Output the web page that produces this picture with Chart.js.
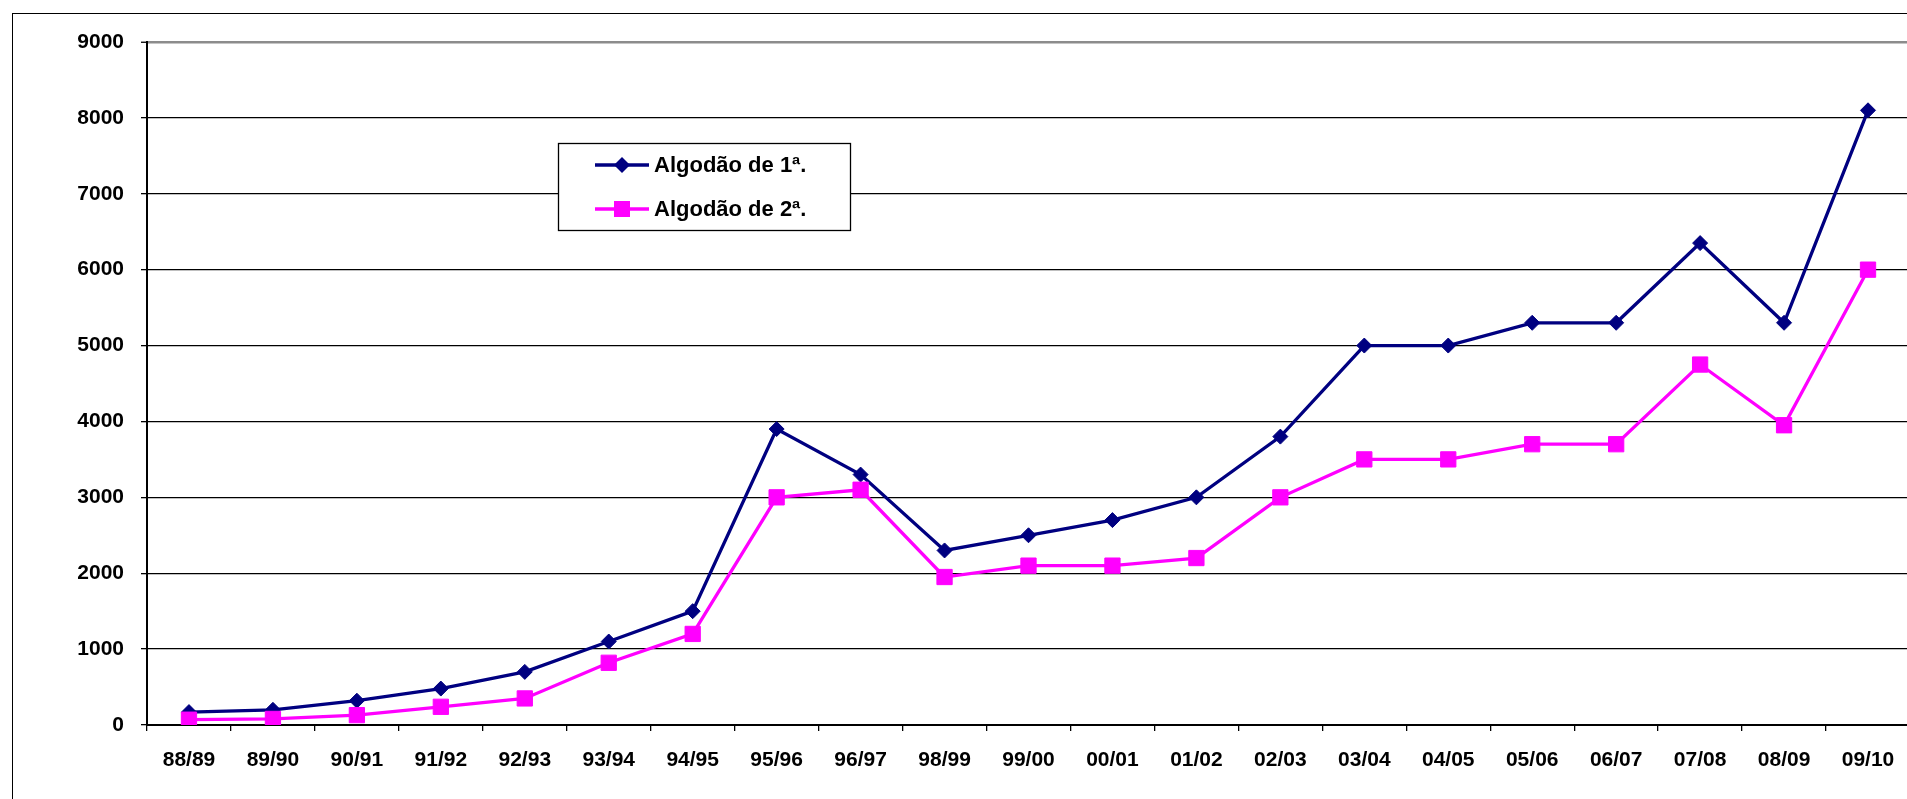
<!DOCTYPE html>
<html>
<head>
<meta charset="utf-8">
<script src="https://cdn.jsdelivr.net/npm/chart.js@4/dist/chart.umd.min.js"></script>
<style>
  html, body { margin: 0; padding: 0; width: 1907px; height: 799px; overflow: hidden; background: #fff; }
  #frame { position: absolute; left: 12px; top: 13px; width: 2000px; height: 900px; border: 1px solid #000; box-sizing: border-box; }
  #wrap { position: absolute; left: 0; top: 0; width: 1930px; height: 799px; }
</style>
</head>
<body>
<div id="frame"></div>
<div id="wrap"><canvas id="c" width="1930" height="799"></canvas></div>
<script>
// Safras (crop years)
const safras = ['88/89', '89/90', '90/91', '91/92', '92/93', '93/94', '94/95', '95/96', '96/97',
  '98/99', '99/00', '00/01', '01/02', '02/03', '03/04', '04/05', '05/06', '06/07', '07/08', '08/09', '09/10'];

// Valores por safra
const algodao1 = [170, 200, 320, 480, 700, 1100, 1500, 3900, 3300, 2300, 2500, 2700, 3000, 3800,
  5000, 5000, 5300, 5300, 6350, 5300, 8100];
const algodao2 = [70, 80, 130, 240, 350, 820, 1200, 3000, 3100, 1950, 2100, 2100, 2200, 3000,
  3500, 3500, 3700, 3700, 4750, 3950, 6000];

const seriesNames = ['Algodão de 1ª.', 'Algodão de 2ª.'];
const yTickValues = [0, 1000, 2000, 3000, 4000, 5000, 6000, 7000, 8000, 9000];

const NAVY = '#000080';
const MAGENTA = '#FF00FF';
const tickFont = { family: '"Liberation Sans", Arial, sans-serif', size: 21, weight: 'bold' };

// Legend box drawn inside the plot, over the grid lines
const legendBox = {
  id: 'legendBox',
  afterDraw(chart) {
    const ctx = chart.ctx;
    const box = { x: 558, y: 143, w: 292, h: 87 };
    ctx.save();
    ctx.fillStyle = '#fff';
    ctx.fillRect(box.x, box.y, box.w, box.h);
    ctx.strokeStyle = '#000';
    ctx.lineWidth = 1.3;
    ctx.strokeRect(box.x + 0.5, box.y + 0.5, box.w, box.h);
    const rows = [165, 209];
    chart.data.datasets.forEach((ds, i) => {
      const cy = rows[i];
      ctx.strokeStyle = ds.borderColor;
      ctx.lineWidth = 3.3;
      ctx.beginPath();
      ctx.moveTo(595, cy);
      ctx.lineTo(649, cy);
      ctx.stroke();
      ctx.fillStyle = ds.pointBackgroundColor;
      ctx.beginPath();
      if (ds.pointStyle === 'rectRot') {
        const r = 8;
        ctx.moveTo(622 - r, cy);
        ctx.lineTo(622, cy - r);
        ctx.lineTo(622 + r, cy);
        ctx.lineTo(622, cy + r);
        ctx.closePath();
      } else {
        ctx.rect(622 - 8, cy - 8, 16, 16);
      }
      ctx.fill();
      ctx.fillStyle = '#000';
      ctx.font = 'bold 22px "Liberation Sans", Arial, sans-serif';
      ctx.textBaseline = 'middle';
      ctx.textAlign = 'left';
      ctx.fillText(ds.label, 654, cy + 1);
    });
    ctx.restore();
  }
};

new Chart(document.getElementById('c'), {
  type: 'line',
  data: {
    labels: safras,
    datasets: [
      {
        label: seriesNames[0],
        data: algodao1,
        borderColor: NAVY,
        backgroundColor: NAVY,
        pointBackgroundColor: NAVY,
        pointBorderColor: NAVY,
        pointStyle: 'rectRot',
        pointRadius: 7.5,
        pointBorderWidth: 1,
        borderWidth: 3.3,
        tension: 0,
        order: 1
      },
      {
        label: seriesNames[1],
        data: algodao2,
        borderColor: MAGENTA,
        backgroundColor: MAGENTA,
        pointBackgroundColor: MAGENTA,
        pointBorderColor: MAGENTA,
        pointStyle: 'rect',
        pointRadius: 10.8,
        pointBorderWidth: 1,
        borderWidth: 3.3,
        tension: 0,
        order: 0
      }
    ]
  },
  options: {
    responsive: false,
    animation: false,
    layout: { padding: { top: 42, right: 20, bottom: 0, left: 0 } },
    plugins: {
      legend: { display: false },
      tooltip: { enabled: false }
    },
    scales: {
      x: {
        offset: true,
        grid: {
          display: true,
          offset: true,
          drawOnChartArea: false,
          drawTicks: true,
          tickLength: 6,
          color: '#000',
          lineWidth: 1.3
        },
        border: { display: true, color: '#000', width: 2 },
        ticks: {
          color: '#000',
          font: tickFont,
          padding: 17,
          maxRotation: 0,
          minRotation: 0,
          autoSkip: false
        },
        afterFit(scale) { scale.height = 74; }
      },
      y: {
        min: 0,
        max: 9000,
        afterBuildTicks(scale) { scale.ticks = yTickValues.map(v => ({ value: v })); },
        grid: {
          color: c => (c.tick && c.tick.value === 9000 ? '#8c8c8c' : '#000'),
          lineWidth: c => (c.tick && c.tick.value === 9000 ? 2.5 : 1.3),
          tickColor: '#000',
          tickWidth: 1.3,
          tickLength: 6,
          drawTicks: true
        },
        border: { display: true, color: '#000', width: 2 },
        ticks: {
          color: '#000',
          font: tickFont,
          padding: 17,
          callback: v => String(v)
        },
        afterFit(scale) { scale.width = 147; }
      }
    }
  },
  plugins: [legendBox]
});
</script>
</body>
</html>
